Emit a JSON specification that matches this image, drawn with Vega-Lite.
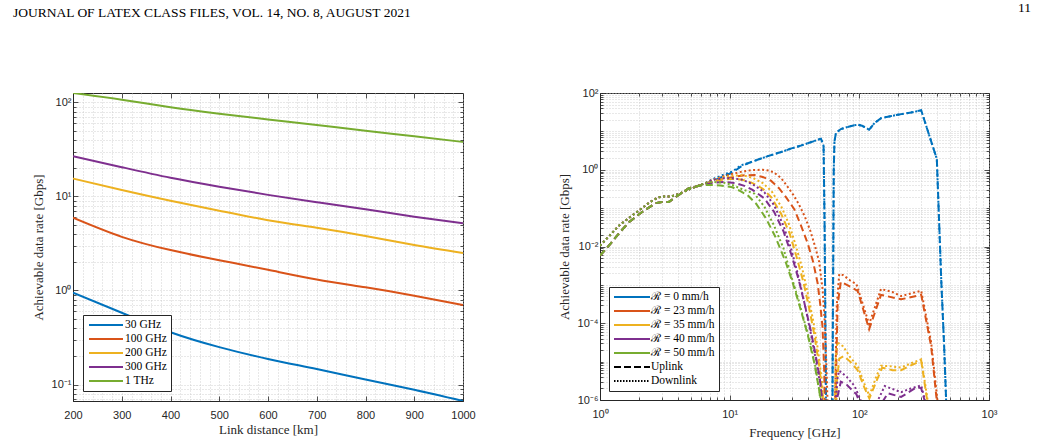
{
  "$schema": "https://vega.github.io/schema/vega-lite/v6.json",
  "background": "white",
  "padding": {"left": 12, "top": 0, "right": 0, "bottom": 0},
  "spacing": 137,
  "bounds": "flush",
  "resolve": {"scale": {"color": "independent"}, "legend": {"color": "independent"}},
  "config": {
    "font": "Liberation Sans",
    "view": {"stroke": "#262626", "strokeWidth": 1},
    "axis": {
      "labelFont": "Liberation Sans", "labelFontSize": 11, "labelColor": "#262626",
      "titleFont": "Liberation Serif", "titleFontSize": 13, "titleFontWeight": "normal", "titleColor": "#262626",
      "domainColor": "#262626", "tickColor": "#262626", "tickWidth": 0.8,
      "gridColor": "#c4c4c4", "gridDash": [1, 2], "gridWidth": 0.8,
      "labelOverlap": false, "labelFlush": false
    },
    "legend": {
      "fillColor": "white", "strokeColor": "#262626", "padding": 4, "cornerRadius": 0,
      "labelFont": "Liberation Serif", "labelFontSize": 11.5, "labelColor": "black",
      "rowPadding": 2, "symbolStrokeWidth": 2, "symbolSize": 100,
      "symbolOffset": 13, "labelOffset": 13
    },
    "title": {"font": "Liberation Serif", "fontSize": 13.5, "fontWeight": "normal", "color": "black", "frame": "group", "offset": 73}
  },
  "hconcat": [
    {
      "width": 390, "height": 308,
      "title": {"text": "JOURNAL OF LATEX CLASS FILES, VOL. 14, NO. 8, AUGUST 2021", "anchor": "start", "dx": -60},
      "data": {"values": [
        {"b":"30 GHz","d":200,"r":0.95},{"b":"30 GHz","d":300,"r":0.58},{"b":"30 GHz","d":400,"r":0.36},{"b":"30 GHz","d":500,"r":0.25},{"b":"30 GHz","d":600,"r":0.187},{"b":"30 GHz","d":700,"r":0.146},{"b":"30 GHz","d":800,"r":0.113},{"b":"30 GHz","d":900,"r":0.088},{"b":"30 GHz","d":1000,"r":0.0668},
        {"b":"100 GHz","d":200,"r":5.94},{"b":"100 GHz","d":300,"r":3.72},{"b":"100 GHz","d":400,"r":2.69},{"b":"100 GHz","d":500,"r":2.1},{"b":"100 GHz","d":600,"r":1.66},{"b":"100 GHz","d":700,"r":1.31},{"b":"100 GHz","d":800,"r":1.08},{"b":"100 GHz","d":900,"r":0.88},{"b":"100 GHz","d":1000,"r":0.7},
        {"b":"200 GHz","d":200,"r":15.5},{"b":"200 GHz","d":300,"r":11.7},{"b":"200 GHz","d":400,"r":9.0},{"b":"200 GHz","d":500,"r":7.06},{"b":"200 GHz","d":600,"r":5.6},{"b":"200 GHz","d":700,"r":4.65},{"b":"200 GHz","d":800,"r":3.8},{"b":"200 GHz","d":900,"r":3.04},{"b":"200 GHz","d":1000,"r":2.5},
        {"b":"300 GHz","d":200,"r":26.8},{"b":"300 GHz","d":300,"r":20.5},{"b":"300 GHz","d":400,"r":15.8},{"b":"300 GHz","d":500,"r":12.7},{"b":"300 GHz","d":600,"r":10.4},{"b":"300 GHz","d":700,"r":8.7},{"b":"300 GHz","d":800,"r":7.3},{"b":"300 GHz","d":900,"r":6.1},{"b":"300 GHz","d":1000,"r":5.2},
        {"b":"1 THz","d":200,"r":126},{"b":"1 THz","d":300,"r":107},{"b":"1 THz","d":400,"r":89},{"b":"1 THz","d":500,"r":76},{"b":"1 THz","d":600,"r":66},{"b":"1 THz","d":700,"r":57.5},{"b":"1 THz","d":800,"r":50},{"b":"1 THz","d":900,"r":43.7},{"b":"1 THz","d":1000,"r":38}
      ]},
      "resolve": {"axis": {"x": "independent", "y": "independent"}},
      "layer": [
        {
          "mark": {"type": "line", "strokeWidth": 2, "interpolate": "natural", "clip": true},
          "encoding": {
            "x": {
              "field": "d", "type": "quantitative",
              "scale": {"domain": [200, 1000], "nice": false, "zero": false},
              "axis": {
                "orient": "bottom", "title": "Link distance [km]", "titlePadding": 3,
                "values": [200,220,240,260,280,300,320,340,360,380,400,420,440,460,480,500,520,540,560,580,600,620,640,660,680,700,720,740,760,780,800,820,840,860,880,900,920,940,960,980,1000],
                "labelExpr": "datum.value % 100 === 0 ? '' + datum.value : ''",
                "tickOpacity": {"condition": {"test": "datum.value % 100 === 0", "value": 1}, "value": 0},
                "tickSize": -5, "labelPadding": 13
              }
            },
            "y": {
              "field": "r", "type": "quantitative",
              "scale": {"type": "log", "domain": [0.0668, 126], "nice": false},
              "axis": {
                "orient": "left", "title": "Achievable data rate [Gbps]", "titlePadding": 6,
                "values": [0.07,0.08,0.09,0.1,0.2,0.3,0.4,0.5,0.6,0.7,0.8,0.9,1,2,3,4,5,6,7,8,9,10,20,30,40,50,60,70,80,90,100],
                "labelExpr": "abs(log(datum.value)/LN10 - round(log(datum.value)/LN10)) < 1e-6 ? '10' + (round(log(datum.value)/LN10) < 0 ? '⁻' : '') + substring('⁰¹²³⁴⁵⁶⁷⁸⁹', abs(round(log(datum.value)/LN10)), abs(round(log(datum.value)/LN10)) + 1) : ''",
                "tickSize": {"condition": {"test": "abs(log(datum.value)/LN10 - round(log(datum.value)/LN10)) < 1e-6", "value": -5}, "value": -3},
                "labelPadding": 7
              }
            },
            "color": {
              "field": "b", "type": "nominal",
              "scale": {"domain": ["30 GHz","100 GHz","200 GHz","300 GHz","1 THz"], "range": ["#0072BD","#D95319","#EDB120","#7E2F8E","#77AC30"]},
              "legend": {"title": null, "orient": "bottom-left", "offset": 10, "symbolType": "M-3.4,0H3.4"}
            }
          }
        },
        {
          "mark": {"type": "line", "opacity": 0},
          "encoding": {
            "x": {
              "field": "d", "type": "quantitative",
              "axis": {
                "orient": "top", "title": null, "labels": false, "grid": false, "domain": false,
                "values": [200,300,400,500,600,700,800,900,1000], "tickSize": -5
              }
            },
            "y": {
              "field": "r", "type": "quantitative",
              "axis": {
                "orient": "right", "title": null, "labels": false, "grid": false, "domain": false,
                "values": [0.07,0.08,0.09,0.1,0.2,0.3,0.4,0.5,0.6,0.7,0.8,0.9,1,2,3,4,5,6,7,8,9,10,20,30,40,50,60,70,80,90,100],
                "tickSize": {"condition": {"test": "abs(log(datum.value)/LN10 - round(log(datum.value)/LN10)) < 1e-6", "value": -5}, "value": -3}
              }
            }
          }
        }
      ]
    },
    {
      "width": 389, "height": 307,
      "title": {"text": "11", "anchor": "end", "dx": 42},
      "data": {"values": [
        {"R":"0","l":"U","f":1,"v":0.0058},{"R":"0","l":"U","f":1.17,"v":0.0105},{"R":"0","l":"U","f":1.4,"v":0.022},{"R":"0","l":"U","f":1.67,"v":0.043},{"R":"0","l":"U","f":2.1,"v":0.078},{"R":"0","l":"U","f":2.68,"v":0.135},{"R":"0","l":"U","f":3,"v":0.145},{"R":"0","l":"U","f":3.4,"v":0.145},{"R":"0","l":"U","f":3.8,"v":0.19},{"R":"0","l":"U","f":4.84,"v":0.33},{"R":"0","l":"U","f":6.1,"v":0.4},
        {"R":"0","l":"U","f":7.5,"v":0.52},{"R":"0","l":"U","f":9,"v":0.68},{"R":"0","l":"U","f":10.5,"v":0.85},{"R":"0","l":"U","f":12.2,"v":1.2},{"R":"0","l":"U","f":14,"v":1.5},{"R":"0","l":"U","f":17,"v":1.9},{"R":"0","l":"U","f":20,"v":2.3},{"R":"0","l":"U","f":25,"v":2.9},{"R":"0","l":"U","f":30,"v":3.6},{"R":"0","l":"U","f":35,"v":4.2},{"R":"0","l":"U","f":40,"v":4.9},{"R":"0","l":"U","f":45,"v":5.6},{"R":"0","l":"U","f":50.6,"v":6.45},{"R":"0","l":"U","f":53,"v":4.2},{"R":"0","l":"U","f":54,"v":0.03},{"R":"0","l":"U","f":55,"v":1e-5},{"R":"0","l":"U","f":56,"v":1e-9},{"R":"0","l":"U","f":61.5,"v":1e-9},{"R":"0","l":"U","f":62.5,"v":1e-4},{"R":"0","l":"U","f":63.5,"v":1},{"R":"0","l":"U","f":64.3,"v":5.5},{"R":"0","l":"U","f":66,"v":9},{"R":"0","l":"U","f":72,"v":11.5},{"R":"0","l":"U","f":80,"v":12.8},{"R":"0","l":"U","f":90,"v":14.2},{"R":"0","l":"U","f":97,"v":15},{"R":"0","l":"U","f":105,"v":14},{"R":"0","l":"U","f":112,"v":12.5},{"R":"0","l":"U","f":119,"v":11},{"R":"0","l":"U","f":131,"v":16.5},{"R":"0","l":"U","f":147,"v":22},{"R":"0","l":"U","f":170,"v":24.5},{"R":"0","l":"U","f":198,"v":27.2},{"R":"0","l":"U","f":250,"v":31},{"R":"0","l":"U","f":300,"v":35.4},{"R":"0","l":"U","f":396,"v":1.9},{"R":"0","l":"U","f":428,"v":0.0014},{"R":"0","l":"U","f":450,"v":3e-5},{"R":"0","l":"U","f":467,"v":1e-6},{"R":"0","l":"U","f":480,"v":1e-9},
        {"R":"0","l":"D","f":1,"v":0.0105},{"R":"0","l":"D","f":1.2,"v":0.02},{"R":"0","l":"D","f":1.4,"v":0.035},{"R":"0","l":"D","f":1.7,"v":0.058},{"R":"0","l":"D","f":2,"v":0.087},{"R":"0","l":"D","f":2.4,"v":0.14},{"R":"0","l":"D","f":2.8,"v":0.19},{"R":"0","l":"D","f":3.1,"v":0.2},{"R":"0","l":"D","f":3.5,"v":0.2},{"R":"0","l":"D","f":4,"v":0.23},{"R":"0","l":"D","f":4.8,"v":0.3},{"R":"0","l":"D","f":5.7,"v":0.38},{"R":"0","l":"D","f":6.6,"v":0.46},
        {"R":"0","l":"D","f":7.5,"v":0.58},{"R":"0","l":"D","f":9,"v":0.75},{"R":"0","l":"D","f":10.5,"v":0.9},{"R":"0","l":"D","f":12.2,"v":1.3},{"R":"0","l":"D","f":14,"v":1.5},{"R":"0","l":"D","f":17,"v":1.9},{"R":"0","l":"D","f":20,"v":2.3},{"R":"0","l":"D","f":25,"v":2.9},{"R":"0","l":"D","f":30,"v":3.6},{"R":"0","l":"D","f":35,"v":4.2},{"R":"0","l":"D","f":40,"v":4.9},{"R":"0","l":"D","f":45,"v":5.6},{"R":"0","l":"D","f":50.6,"v":6.45},{"R":"0","l":"D","f":53,"v":4.2},{"R":"0","l":"D","f":54,"v":0.03},{"R":"0","l":"D","f":55,"v":1e-5},{"R":"0","l":"D","f":56,"v":1e-9},{"R":"0","l":"D","f":61.5,"v":1e-9},{"R":"0","l":"D","f":62.5,"v":1e-4},{"R":"0","l":"D","f":63.5,"v":1},{"R":"0","l":"D","f":64.3,"v":5.5},{"R":"0","l":"D","f":66,"v":9},{"R":"0","l":"D","f":72,"v":11.5},{"R":"0","l":"D","f":80,"v":12.8},{"R":"0","l":"D","f":90,"v":14.2},{"R":"0","l":"D","f":97,"v":15},{"R":"0","l":"D","f":105,"v":14},{"R":"0","l":"D","f":112,"v":12.5},{"R":"0","l":"D","f":119,"v":11},{"R":"0","l":"D","f":131,"v":16.5},{"R":"0","l":"D","f":147,"v":22},{"R":"0","l":"D","f":170,"v":24.5},{"R":"0","l":"D","f":198,"v":27.2},{"R":"0","l":"D","f":250,"v":31},{"R":"0","l":"D","f":300,"v":35.4},{"R":"0","l":"D","f":396,"v":1.9},{"R":"0","l":"D","f":428,"v":0.0014},{"R":"0","l":"D","f":450,"v":3e-5},{"R":"0","l":"D","f":467,"v":1e-6},{"R":"0","l":"D","f":480,"v":1e-9},

        {"R":"23","l":"U","f":1,"v":0.0058},{"R":"23","l":"U","f":1.17,"v":0.0105},{"R":"23","l":"U","f":1.4,"v":0.022},{"R":"23","l":"U","f":1.67,"v":0.043},{"R":"23","l":"U","f":2.1,"v":0.078},{"R":"23","l":"U","f":2.68,"v":0.135},{"R":"23","l":"U","f":3,"v":0.145},{"R":"23","l":"U","f":3.4,"v":0.145},{"R":"23","l":"U","f":3.8,"v":0.19},{"R":"23","l":"U","f":4.84,"v":0.33},{"R":"23","l":"U","f":6.1,"v":0.4},
        {"R":"23","l":"U","f":7.5,"v":0.5},{"R":"23","l":"U","f":9,"v":0.58},{"R":"23","l":"U","f":11,"v":0.66},{"R":"23","l":"U","f":13,"v":0.72},{"R":"23","l":"U","f":15.5,"v":0.73},{"R":"23","l":"U","f":18,"v":0.65},{"R":"23","l":"U","f":20.8,"v":0.52},{"R":"23","l":"U","f":24,"v":0.33},{"R":"23","l":"U","f":27,"v":0.2},{"R":"23","l":"U","f":31.5,"v":0.094},{"R":"23","l":"U","f":35.5,"v":0.035},{"R":"23","l":"U","f":40,"v":0.012},{"R":"23","l":"U","f":44,"v":0.004},{"R":"23","l":"U","f":47.7,"v":0.0011},{"R":"23","l":"U","f":50,"v":3e-4},{"R":"23","l":"U","f":52,"v":8e-5},{"R":"23","l":"U","f":53.7,"v":5e-6},{"R":"23","l":"U","f":55,"v":1e-9},{"R":"23","l":"U","f":64,"v":1e-9},{"R":"23","l":"U","f":65.5,"v":1e-6},{"R":"23","l":"U","f":68,"v":3e-4},{"R":"23","l":"U","f":72,"v":0.0012},{"R":"23","l":"U","f":85,"v":9e-4},{"R":"23","l":"U","f":97,"v":7e-4},{"R":"23","l":"U","f":119,"v":7e-5},{"R":"23","l":"U","f":147,"v":5.5e-4},{"R":"23","l":"U","f":210,"v":4.2e-4},{"R":"23","l":"U","f":300,"v":5.5e-4},{"R":"23","l":"U","f":358,"v":2.5e-5},{"R":"23","l":"U","f":395,"v":1e-6},{"R":"23","l":"U","f":405,"v":1e-9},
        {"R":"23","l":"D","f":1,"v":0.0105},{"R":"23","l":"D","f":1.2,"v":0.02},{"R":"23","l":"D","f":1.4,"v":0.035},{"R":"23","l":"D","f":1.7,"v":0.058},{"R":"23","l":"D","f":2,"v":0.087},{"R":"23","l":"D","f":2.4,"v":0.14},{"R":"23","l":"D","f":2.8,"v":0.19},{"R":"23","l":"D","f":3.1,"v":0.2},{"R":"23","l":"D","f":3.5,"v":0.2},{"R":"23","l":"D","f":4,"v":0.23},{"R":"23","l":"D","f":4.8,"v":0.3},{"R":"23","l":"D","f":5.7,"v":0.38},{"R":"23","l":"D","f":6.6,"v":0.46},
        {"R":"23","l":"D","f":7.5,"v":0.55},{"R":"23","l":"D","f":9,"v":0.68},{"R":"23","l":"D","f":10.5,"v":0.78},{"R":"23","l":"D","f":12.5,"v":0.9},{"R":"23","l":"D","f":15,"v":0.98},{"R":"23","l":"D","f":18,"v":1.0},{"R":"23","l":"D","f":20,"v":0.95},{"R":"23","l":"D","f":22,"v":0.85},{"R":"23","l":"D","f":25,"v":0.6},{"R":"23","l":"D","f":28,"v":0.36},{"R":"23","l":"D","f":31,"v":0.22},{"R":"23","l":"D","f":34,"v":0.13},{"R":"23","l":"D","f":38,"v":0.06},{"R":"23","l":"D","f":42,"v":0.025},{"R":"23","l":"D","f":46,"v":0.009},{"R":"23","l":"D","f":49,"v":0.004},{"R":"23","l":"D","f":52,"v":8e-4},{"R":"23","l":"D","f":54,"v":1.2e-4},{"R":"23","l":"D","f":55.5,"v":1.2e-5},{"R":"23","l":"D","f":56.8,"v":1e-6},{"R":"23","l":"D","f":58,"v":1e-9},{"R":"23","l":"D","f":63.5,"v":1e-9},{"R":"23","l":"D","f":65,"v":1e-6},{"R":"23","l":"D","f":67,"v":3e-4},{"R":"23","l":"D","f":70,"v":0.0019},{"R":"23","l":"D","f":75,"v":0.0018},{"R":"23","l":"D","f":85,"v":0.0013},{"R":"23","l":"D","f":95,"v":0.00105},{"R":"23","l":"D","f":119,"v":9.5e-5},{"R":"23","l":"D","f":147,"v":7.8e-4},{"R":"23","l":"D","f":180,"v":6.5e-4},{"R":"23","l":"D","f":210,"v":5.1e-4},{"R":"23","l":"D","f":250,"v":6e-4},{"R":"23","l":"D","f":300,"v":7e-4},{"R":"23","l":"D","f":358,"v":3.2e-5},{"R":"23","l":"D","f":400,"v":1e-6},{"R":"23","l":"D","f":410,"v":1e-9},

        {"R":"35","l":"U","f":1,"v":0.0058},{"R":"35","l":"U","f":1.17,"v":0.0105},{"R":"35","l":"U","f":1.4,"v":0.022},{"R":"35","l":"U","f":1.67,"v":0.043},{"R":"35","l":"U","f":2.1,"v":0.078},{"R":"35","l":"U","f":2.68,"v":0.135},{"R":"35","l":"U","f":3,"v":0.145},{"R":"35","l":"U","f":3.4,"v":0.145},{"R":"35","l":"U","f":3.8,"v":0.19},{"R":"35","l":"U","f":4.84,"v":0.33},{"R":"35","l":"U","f":6.1,"v":0.4},
        {"R":"35","l":"U","f":7.5,"v":0.5},{"R":"35","l":"U","f":9,"v":0.56},{"R":"35","l":"U","f":10.5,"v":0.58},{"R":"35","l":"U","f":12.5,"v":0.55},{"R":"35","l":"U","f":15,"v":0.45},{"R":"35","l":"U","f":18,"v":0.32},{"R":"35","l":"U","f":21,"v":0.19},{"R":"35","l":"U","f":25,"v":0.07},{"R":"35","l":"U","f":29,"v":0.022},{"R":"35","l":"U","f":33,"v":0.005},{"R":"35","l":"U","f":37,"v":0.0012},{"R":"35","l":"U","f":41,"v":2.5e-4},{"R":"35","l":"U","f":45,"v":5e-5},{"R":"35","l":"U","f":49,"v":8e-6},{"R":"35","l":"U","f":52.5,"v":1e-6},{"R":"35","l":"U","f":55,"v":1e-9},{"R":"35","l":"U","f":64.5,"v":1e-9},{"R":"35","l":"U","f":67,"v":3e-6},{"R":"35","l":"U","f":70,"v":1.2e-5},{"R":"35","l":"U","f":76,"v":1.4e-5},{"R":"35","l":"U","f":85,"v":1e-5},{"R":"35","l":"U","f":97,"v":6e-6},{"R":"35","l":"U","f":110,"v":2e-6},{"R":"35","l":"U","f":119.5,"v":1.1e-6},{"R":"35","l":"U","f":135,"v":3e-6},{"R":"35","l":"U","f":150,"v":7e-6},{"R":"35","l":"U","f":180,"v":6e-6},{"R":"35","l":"U","f":210,"v":6e-6},{"R":"35","l":"U","f":250,"v":8e-6},{"R":"35","l":"U","f":300,"v":1.05e-5},{"R":"35","l":"U","f":320,"v":2.5e-6},{"R":"35","l":"U","f":333,"v":1e-6},{"R":"35","l":"U","f":340,"v":1e-9},
        {"R":"35","l":"D","f":1,"v":0.0105},{"R":"35","l":"D","f":1.2,"v":0.02},{"R":"35","l":"D","f":1.4,"v":0.035},{"R":"35","l":"D","f":1.7,"v":0.058},{"R":"35","l":"D","f":2,"v":0.087},{"R":"35","l":"D","f":2.4,"v":0.14},{"R":"35","l":"D","f":2.8,"v":0.19},{"R":"35","l":"D","f":3.1,"v":0.2},{"R":"35","l":"D","f":3.5,"v":0.2},{"R":"35","l":"D","f":4,"v":0.23},{"R":"35","l":"D","f":4.8,"v":0.3},{"R":"35","l":"D","f":5.7,"v":0.38},{"R":"35","l":"D","f":6.6,"v":0.46},
        {"R":"35","l":"D","f":7.5,"v":0.55},{"R":"35","l":"D","f":9,"v":0.64},{"R":"35","l":"D","f":10.5,"v":0.7},{"R":"35","l":"D","f":12.5,"v":0.72},{"R":"35","l":"D","f":15,"v":0.62},{"R":"35","l":"D","f":18,"v":0.45},{"R":"35","l":"D","f":21,"v":0.28},{"R":"35","l":"D","f":25,"v":0.11},{"R":"35","l":"D","f":28.5,"v":0.04},{"R":"35","l":"D","f":32,"v":0.012},{"R":"35","l":"D","f":36,"v":0.003},{"R":"35","l":"D","f":40,"v":6e-4},{"R":"35","l":"D","f":44,"v":1.2e-4},{"R":"35","l":"D","f":48,"v":2e-5},{"R":"35","l":"D","f":51.5,"v":3e-6},{"R":"35","l":"D","f":54,"v":3e-7},{"R":"35","l":"D","f":56,"v":1e-9},{"R":"35","l":"D","f":63.5,"v":1e-9},{"R":"35","l":"D","f":65.5,"v":1e-5},{"R":"35","l":"D","f":67.5,"v":3.2e-5},{"R":"35","l":"D","f":75,"v":2.5e-5},{"R":"35","l":"D","f":85,"v":1.3e-5},{"R":"35","l":"D","f":97,"v":7.8e-6},{"R":"35","l":"D","f":110,"v":2.5e-6},{"R":"35","l":"D","f":119.5,"v":1.3e-6},{"R":"35","l":"D","f":135,"v":4e-6},{"R":"35","l":"D","f":147,"v":7.8e-6},{"R":"35","l":"D","f":180,"v":7.5e-6},{"R":"35","l":"D","f":210,"v":7e-6},{"R":"35","l":"D","f":250,"v":9e-6},{"R":"35","l":"D","f":300,"v":1.15e-5},{"R":"35","l":"D","f":320,"v":3e-6},{"R":"35","l":"D","f":336,"v":1e-6},{"R":"35","l":"D","f":345,"v":1e-9},

        {"R":"40","l":"U","f":1,"v":0.0058},{"R":"40","l":"U","f":1.17,"v":0.0105},{"R":"40","l":"U","f":1.4,"v":0.022},{"R":"40","l":"U","f":1.67,"v":0.043},{"R":"40","l":"U","f":2.1,"v":0.078},{"R":"40","l":"U","f":2.68,"v":0.135},{"R":"40","l":"U","f":3,"v":0.145},{"R":"40","l":"U","f":3.4,"v":0.145},{"R":"40","l":"U","f":3.8,"v":0.19},{"R":"40","l":"U","f":4.84,"v":0.33},{"R":"40","l":"U","f":6.1,"v":0.4},
        {"R":"40","l":"U","f":7.5,"v":0.46},{"R":"40","l":"U","f":9,"v":0.48},{"R":"40","l":"U","f":11,"v":0.45},{"R":"40","l":"U","f":13,"v":0.38},{"R":"40","l":"U","f":15,"v":0.3},{"R":"40","l":"U","f":18.5,"v":0.18},{"R":"40","l":"U","f":22,"v":0.08},{"R":"40","l":"U","f":26,"v":0.025},{"R":"40","l":"U","f":30,"v":0.006},{"R":"40","l":"U","f":34,"v":0.0014},{"R":"40","l":"U","f":38,"v":3e-4},{"R":"40","l":"U","f":42,"v":7e-5},{"R":"40","l":"U","f":46,"v":1.5e-5},{"R":"40","l":"U","f":50,"v":3e-6},{"R":"40","l":"U","f":53,"v":4e-7},{"R":"40","l":"U","f":55,"v":1e-9},{"R":"40","l":"U","f":64.5,"v":1e-9},{"R":"40","l":"U","f":67,"v":1e-6},{"R":"40","l":"U","f":72,"v":3e-6},{"R":"40","l":"U","f":80,"v":2.5e-6},{"R":"40","l":"U","f":95,"v":1.4e-6},{"R":"40","l":"U","f":105,"v":6e-7},{"R":"40","l":"U","f":119,"v":1e-7},{"R":"40","l":"U","f":140,"v":6e-7},{"R":"40","l":"U","f":166,"v":1.5e-6},{"R":"40","l":"U","f":210,"v":1.2e-6},{"R":"40","l":"U","f":280,"v":2.2e-6},{"R":"40","l":"U","f":300,"v":2e-6},{"R":"40","l":"U","f":318,"v":1e-6},{"R":"40","l":"U","f":335,"v":1e-9},
        {"R":"40","l":"D","f":1,"v":0.0105},{"R":"40","l":"D","f":1.2,"v":0.02},{"R":"40","l":"D","f":1.4,"v":0.035},{"R":"40","l":"D","f":1.7,"v":0.058},{"R":"40","l":"D","f":2,"v":0.087},{"R":"40","l":"D","f":2.4,"v":0.14},{"R":"40","l":"D","f":2.8,"v":0.19},{"R":"40","l":"D","f":3.1,"v":0.2},{"R":"40","l":"D","f":3.5,"v":0.2},{"R":"40","l":"D","f":4,"v":0.23},{"R":"40","l":"D","f":4.8,"v":0.3},{"R":"40","l":"D","f":5.7,"v":0.38},{"R":"40","l":"D","f":6.6,"v":0.46},
        {"R":"40","l":"D","f":7.5,"v":0.55},{"R":"40","l":"D","f":9,"v":0.6},{"R":"40","l":"D","f":10.5,"v":0.6},{"R":"40","l":"D","f":12.5,"v":0.55},{"R":"40","l":"D","f":15,"v":0.42},{"R":"40","l":"D","f":18.5,"v":0.26},{"R":"40","l":"D","f":22,"v":0.12},{"R":"40","l":"D","f":26,"v":0.035},{"R":"40","l":"D","f":30,"v":0.008},{"R":"40","l":"D","f":34,"v":0.0016},{"R":"40","l":"D","f":38,"v":3e-4},{"R":"40","l":"D","f":42,"v":6e-5},{"R":"40","l":"D","f":46,"v":1.2e-5},{"R":"40","l":"D","f":50,"v":2.5e-6},{"R":"40","l":"D","f":52.5,"v":5e-7},{"R":"40","l":"D","f":55,"v":1e-9},{"R":"40","l":"D","f":63.5,"v":1e-9},{"R":"40","l":"D","f":66,"v":1e-6},{"R":"40","l":"D","f":68,"v":4e-6},{"R":"40","l":"D","f":70,"v":5.8e-6},{"R":"40","l":"D","f":80,"v":4e-6},{"R":"40","l":"D","f":92,"v":2.3e-6},{"R":"40","l":"D","f":105,"v":8e-7},{"R":"40","l":"D","f":119,"v":1.5e-7},{"R":"40","l":"D","f":135,"v":8e-7},{"R":"40","l":"D","f":157,"v":2.3e-6},{"R":"40","l":"D","f":210,"v":1.6e-6},{"R":"40","l":"D","f":250,"v":2e-6},{"R":"40","l":"D","f":300,"v":2.4e-6},{"R":"40","l":"D","f":320,"v":1e-6},{"R":"40","l":"D","f":340,"v":1e-9},

        {"R":"50","l":"U","f":1,"v":0.0058},{"R":"50","l":"U","f":1.17,"v":0.0105},{"R":"50","l":"U","f":1.4,"v":0.022},{"R":"50","l":"U","f":1.67,"v":0.043},{"R":"50","l":"U","f":2.1,"v":0.078},{"R":"50","l":"U","f":2.68,"v":0.135},{"R":"50","l":"U","f":3,"v":0.145},{"R":"50","l":"U","f":3.4,"v":0.145},{"R":"50","l":"U","f":3.8,"v":0.19},{"R":"50","l":"U","f":4.84,"v":0.33},{"R":"50","l":"U","f":6.1,"v":0.4},
        {"R":"50","l":"U","f":7.5,"v":0.4},{"R":"50","l":"U","f":8.5,"v":0.39},{"R":"50","l":"U","f":10.5,"v":0.35},{"R":"50","l":"U","f":12,"v":0.28},{"R":"50","l":"U","f":13.7,"v":0.22},{"R":"50","l":"U","f":16,"v":0.13},{"R":"50","l":"U","f":19,"v":0.055},{"R":"50","l":"U","f":22.5,"v":0.018},{"R":"50","l":"U","f":27,"v":0.004},{"R":"50","l":"U","f":31,"v":0.001},{"R":"50","l":"U","f":35,"v":2.5e-4},{"R":"50","l":"U","f":40,"v":5e-5},{"R":"50","l":"U","f":45,"v":9e-6},{"R":"50","l":"U","f":49.5,"v":1.5e-6},{"R":"50","l":"U","f":52,"v":1e-9},
        {"R":"50","l":"D","f":1,"v":0.0105},{"R":"50","l":"D","f":1.2,"v":0.02},{"R":"50","l":"D","f":1.4,"v":0.035},{"R":"50","l":"D","f":1.7,"v":0.058},{"R":"50","l":"D","f":2,"v":0.087},{"R":"50","l":"D","f":2.4,"v":0.14},{"R":"50","l":"D","f":2.8,"v":0.19},{"R":"50","l":"D","f":3.1,"v":0.2},{"R":"50","l":"D","f":3.5,"v":0.2},{"R":"50","l":"D","f":4,"v":0.23},{"R":"50","l":"D","f":4.8,"v":0.3},{"R":"50","l":"D","f":5.7,"v":0.38},{"R":"50","l":"D","f":6.6,"v":0.46},
        {"R":"50","l":"D","f":7.5,"v":0.48},{"R":"50","l":"D","f":9,"v":0.46},{"R":"50","l":"D","f":10.5,"v":0.4},{"R":"50","l":"D","f":12.8,"v":0.3},{"R":"50","l":"D","f":15.5,"v":0.24},{"R":"50","l":"D","f":18.5,"v":0.11},{"R":"50","l":"D","f":22,"v":0.035},{"R":"50","l":"D","f":26,"v":0.009},{"R":"50","l":"D","f":30,"v":0.0016},{"R":"50","l":"D","f":34,"v":4e-4},{"R":"50","l":"D","f":38,"v":1e-4},{"R":"50","l":"D","f":42,"v":3e-5},{"R":"50","l":"D","f":46,"v":7e-6},{"R":"50","l":"D","f":50.5,"v":1e-6},{"R":"50","l":"D","f":53,"v":1e-9}
      ]},
      "resolve": {"axis": {"x": "independent", "y": "independent"}},
      "layer": [
        {
          "mark": {"type": "line", "strokeWidth": 2, "clip": true},
          "encoding": {
            "x": {
              "field": "f", "type": "quantitative",
              "scale": {"type": "log", "domain": [1, 1000], "nice": false},
              "axis": {
                "orient": "bottom", "title": "Frequency [GHz]", "titlePadding": 5,
                "values": [1,2,3,4,5,6,7,8,9,10,20,30,40,50,60,70,80,90,100,200,300,400,500,600,700,800,900,1000],
                "labelExpr": "abs(log(datum.value)/LN10 - round(log(datum.value)/LN10)) < 1e-6 ? '10' + (round(log(datum.value)/LN10) < 0 ? '⁻' : '') + substring('⁰¹²³⁴⁵⁶⁷⁸⁹', abs(round(log(datum.value)/LN10)), abs(round(log(datum.value)/LN10)) + 1) : ''",
                "tickSize": {"condition": {"test": "abs(log(datum.value)/LN10 - round(log(datum.value)/LN10)) < 1e-6", "value": -5}, "value": -3},
                "labelPadding": 13
              }
            },
            "y": {
              "field": "v", "type": "quantitative",
              "scale": {"type": "log", "domain": [1e-6, 100], "nice": false},
              "axis": {
                "orient": "left", "title": "Achievable data rate [Gbps]", "titlePadding": 6,
                "values": [1e-6,2e-6,3e-6,4e-6,5e-6,6e-6,7e-6,8e-6,9e-6,1e-5,2e-5,3e-5,4e-5,5e-5,6e-5,7e-5,8e-5,9e-5,1e-4,2e-4,3e-4,4e-4,5e-4,6e-4,7e-4,8e-4,9e-4,0.001,0.002,0.003,0.004,0.005,0.006,0.007,0.008,0.009,0.01,0.02,0.03,0.04,0.05,0.06,0.07,0.08,0.09,0.1,0.2,0.3,0.4,0.5,0.6,0.7,0.8,0.9,1,2,3,4,5,6,7,8,9,10,20,30,40,50,60,70,80,90,100],
                "labelExpr": "abs(log(datum.value)/LN10 - round(log(datum.value)/LN10)) < 1e-6 && round(log(datum.value)/LN10) % 2 === 0 ? '10' + (round(log(datum.value)/LN10) < 0 ? '⁻' : '') + substring('⁰¹²³⁴⁵⁶⁷⁸⁹', abs(round(log(datum.value)/LN10)), abs(round(log(datum.value)/LN10)) + 1) : ''",
                "tickSize": {"condition": {"test": "abs(log(datum.value)/LN10 - round(log(datum.value)/LN10)) < 1e-6 && round(log(datum.value)/LN10) % 2 === 0", "value": -5}, "value": -3},
                "labelPadding": 7
              }
            },
            "strokeDash": {
              "field": "l", "type": "nominal",
              "scale": {"domain": ["U", "D"], "range": [[7, 4], [2, 2.5]]},
              "legend": null
            },
            "color": {
              "field": "R", "type": "nominal",
              "scale": {"domain": ["0","23","35","40","50","Uplink","Downlink"], "range": ["#0072BD","#D95319","#EDB120","#7E2F8E","#77AC30","#000000","#000000"]},
              "legend": {
                "title": null, "orient": "bottom-left", "offset": 9, "symbolType": "M-3.6,0H3.6",
                "labelExpr": "datum.label === 'Uplink' || datum.label === 'Downlink' ? datum.label : 'ℛ = ' + datum.label + ' mm/h'",
                "encode": {"symbols": {"update": {"strokeDash": {"signal": "datum.value === 'Uplink' ? [7, 3] : datum.value === 'Downlink' ? [1.5, 1.5] : [1, 0]"}}}}
              }
            }
          }
        },
        {
          "mark": {"type": "line", "opacity": 0},
          "encoding": {
            "x": {
              "field": "f", "type": "quantitative",
              "axis": {
                "orient": "top", "title": null, "labels": false, "grid": false, "domain": false,
                "values": [1,2,3,4,5,6,7,8,9,10,20,30,40,50,60,70,80,90,100,200,300,400,500,600,700,800,900,1000],
                "tickSize": {"condition": {"test": "abs(log(datum.value)/LN10 - round(log(datum.value)/LN10)) < 1e-6", "value": -5}, "value": -3}
              }
            },
            "y": {
              "field": "v", "type": "quantitative",
              "axis": {
                "orient": "right", "title": null, "labels": false, "grid": false, "domain": false,
                "values": [1e-6,2e-6,3e-6,4e-6,5e-6,6e-6,7e-6,8e-6,9e-6,1e-5,2e-5,3e-5,4e-5,5e-5,6e-5,7e-5,8e-5,9e-5,1e-4,2e-4,3e-4,4e-4,5e-4,6e-4,7e-4,8e-4,9e-4,0.001,0.002,0.003,0.004,0.005,0.006,0.007,0.008,0.009,0.01,0.02,0.03,0.04,0.05,0.06,0.07,0.08,0.09,0.1,0.2,0.3,0.4,0.5,0.6,0.7,0.8,0.9,1,2,3,4,5,6,7,8,9,10,20,30,40,50,60,70,80,90,100],
                "tickSize": {"condition": {"test": "abs(log(datum.value)/LN10 - round(log(datum.value)/LN10)) < 1e-6 && round(log(datum.value)/LN10) % 2 === 0", "value": -5}, "value": -3}
              }
            }
          }
        }
      ]
    }
  ]
}
